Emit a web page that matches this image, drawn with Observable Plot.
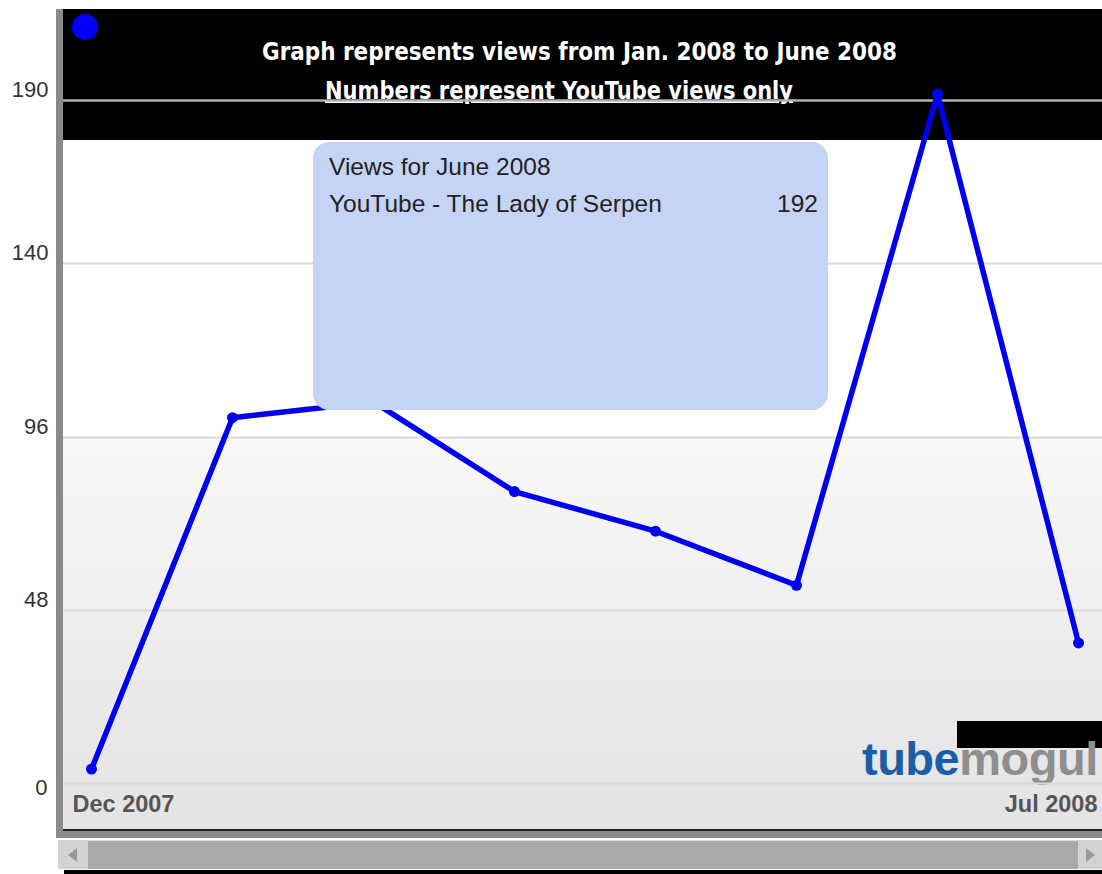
<!DOCTYPE html>
<html><head><meta charset="utf-8">
<script src="https://cdn.jsdelivr.net/npm/d3@7"></script>
<script src="https://cdn.jsdelivr.net/npm/@observablehq/plot@0.6"></script>
<style>
html,body{margin:0;padding:0;background:#fff;}
#wrap{position:relative;width:1102px;height:874px;overflow:hidden;background:#fff;font-family:"Liberation Sans",Arial,sans-serif;}
.abs{position:absolute;}
.title{position:absolute;white-space:nowrap;font-family:"DejaVu Sans",Verdana,sans-serif;font-weight:bold;color:#fff;font-size:24px;line-height:24px;transform-origin:0 0;}
.tip{position:absolute;white-space:nowrap;font-size:24.5px;line-height:24px;color:#222;}
</style></head><body>
<div id="wrap">
  <div class="abs" style="left:63px;top:140px;width:1039px;height:690px;background:#fff"></div>
  <div id="bgGrad" class="abs" style="left:63px;width:1039px;background:linear-gradient(#f8f8f8,#e3e3e3)"></div>
  <div class="abs" style="left:63px;top:9px;width:1039px;height:131px;background:#000"></div>
  <div class="abs" style="left:72px;top:14px;width:26px;height:26px;border-radius:50%;background:#0000ff"></div>
  <div id="t1" class="title" style="top:40px">Graph represents views from Jan. 2008 to June 2008</div>
  <div id="t2" class="title" style="top:79px;text-decoration:underline">Numbers represent YouTube views only</div>
  <div class="abs" style="left:957px;top:721px;width:145px;height:27px;background:#000"></div>
  <div class="abs" style="left:862px;top:735px;white-space:nowrap;font-weight:bold;font-size:47px;line-height:47px;letter-spacing:-0.5px"><span style="color:#1b5ea6">tube</span><span style="color:#8e8e8e">mogul</span></div>
  <div id="chart" class="abs" style="left:0;top:0"></div>
  <div class="abs" style="left:313px;top:142px;width:515px;height:268px;border-radius:16px;background:#c5d4f4">
    <div class="tip" style="left:16px;top:13px">Views for June 2008</div>
    <div class="tip" style="left:16px;top:50px">YouTube - The Lady of Serpen</div>
    <div class="tip" style="right:10px;top:50px">192</div>
  </div>
  <!-- frame -->
  <div class="abs" style="left:56px;top:9px;width:7px;height:829px;background:#8a8a8a"></div>
  <div class="abs" style="left:63px;top:829px;width:1039px;height:2px;background:#222"></div>
  <div class="abs" style="left:56px;top:831px;width:1046px;height:7px;background:#8a8a8a"></div>
  <!-- scrollbar -->
  <div class="abs" style="left:58px;top:840px;width:1044px;height:28px;background:#a9a9a9;border-top:1px solid #ddd"></div>
  <div class="abs" style="left:58px;top:840px;width:30px;height:29px;background:#d2d2d2"></div>
  <div class="abs" style="left:68px;top:848px;width:0;height:0;border-top:7px solid transparent;border-bottom:7px solid transparent;border-right:9px solid #999"></div>
  <div class="abs" style="left:1078px;top:840px;width:24px;height:29px;background:#d2d2d2"></div>
  <div class="abs" style="left:1086px;top:848px;width:0;height:0;border-top:7px solid transparent;border-bottom:7px solid transparent;border-left:9px solid #999"></div>
  <div class="abs" style="left:64px;top:870px;width:1038px;height:4px;background:#000"></div>
</div>
<script>
const months = ["Dec 2007","Jan 2008","Feb 2008","Mar 2008","Apr 2008","May 2008","Jun 2008","Jul 2008"];
const views = [4, 101, 105, 81, 70, 55, 192, 39];
const yTicks = [0, 48, 96, 140, 190];
const yTickLabels = ["0", "48", "96", "140", "190"];
const xLabels = ["Dec 2007", "Jul 2008"];

const data = months.map((m, i) => ({month: m, views: views[i]}));
const ticks = yTicks.map((v, i) => ({v, label: yTickLabels[i]}));
const blue = "#0000f0";

const chart = Plot.plot({
  width: 1102, height: 874,
  marginLeft: 63, marginRight: 0, marginTop: 9, marginBottom: 44,
  style: {background: "transparent", overflow: "visible", fontFamily: "'Liberation Sans', Arial, sans-serif"},
  x: {type: "point", domain: months, range: [89, 1079], padding: 0, axis: null},
  y: {type: "linear", domain: yTicks, range: [783, 610, 437, 263, 100], axis: null},
  marks: [
    Plot.ruleY(ticks.filter(d => d.v !== 190), {y: "v", stroke: "#d9d9d9", strokeWidth: 2}),
    Plot.ruleY(ticks.filter(d => d.v === 190), {y: "v", stroke: "#b0b0b0", strokeWidth: 2.5}),
    Plot.text(ticks.filter(d => d.v !== 0), {y: "v", text: "label", frameAnchor: "left", textAnchor: "end", dx: -15, dy: -11, fontSize: 22, fill: "#333"}),
    Plot.text(ticks.filter(d => d.v === 0), {y: "v", text: "label", frameAnchor: "left", textAnchor: "end", dx: -16, dy: 4, fontSize: 22, fill: "#333"}),
    Plot.line(data, {x: "month", y: "views", stroke: blue, strokeWidth: 5.5, strokeLinejoin: "round"}),
    Plot.dot(data, {x: "month", y: "views", r: 5.5, fill: blue}),
    Plot.text([xLabels[0]], {x: d => d, text: d => d, frameAnchor: "bottom", textAnchor: "start", dx: -19, dy: -19, fontSize: 23.5, fontWeight: "bold", fill: "#555"}),
    Plot.text([xLabels[1]], {x: d => d, text: d => d, frameAnchor: "bottom", textAnchor: "end", dx: 19, dy: -19, fontSize: 23.5, fontWeight: "bold", fill: "#555"})
  ]
});
document.getElementById("chart").appendChild(chart);

const y = chart.scale("y");
const g = document.getElementById("bgGrad");
const top96 = y.apply(96);
g.style.top = top96 + "px";
g.style.height = (829 - top96) + "px";

function fit(id, left, width) {
  const el = document.getElementById(id);
  el.style.left = left + "px";
  const w = el.getBoundingClientRect().width;
  el.style.transform = `scaleX(${width / w})`;
}
fit("t1", 262, 635);
fit("t2", 325, 468);
</script>
</body></html>
